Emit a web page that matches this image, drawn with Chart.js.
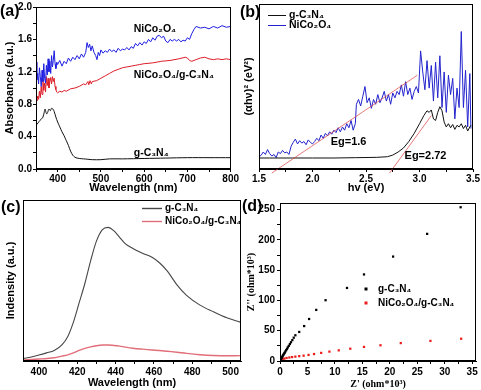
<!DOCTYPE html>
<html>
<head>
<meta charset="utf-8">
<script src="https://cdn.jsdelivr.net/npm/chart.js@4.4.1/dist/chart.umd.min.js"></script>
<style>
body { margin: 0; background: #fff; width: 481px; height: 390px; position: relative; overflow: hidden; }
canvas { position: absolute; }
.tag { position: absolute; font: bold 16px "Liberation Sans", Arial, sans-serif; color: #000; line-height: 1; }
</style>
</head>
<body>
<canvas id="uv-chart"  width="240" height="195" style="left:0;top:0"></canvas>
<canvas id="tauc-chart" width="241" height="195" style="left:240px;top:0"></canvas>
<canvas id="pl-chart"  width="244" height="195" style="left:0;top:195px"></canvas>
<canvas id="eis-chart" width="236" height="195" style="left:245px;top:195px"></canvas>
<div class="tag" style="left:0;top:3px">(a)</div>
<div class="tag" style="left:240px;top:4px">(b)</div>
<div class="tag" style="left:1px;top:199px">(c)</div>
<div class="tag" style="left:242px;top:198px">(d)</div>
<script>
// ---- (a) UV-vis absorbance ----
const UV_WAVE_NICO = [350,352,354,356,358,360,362,364,366,368,370,372,374,376,378,380,382,384,386,388,390,392,394,396,398,400,405,410,415,420,425,430,435,440,445,450,455,460,465,468,471,474,477,480,484,488,491,494,497,500,505,510,515,520,525,530,535,540,545,550,555,560,565,570,575,580,585,590,595,600,605,610,615,620,625,630,635,640,645,650,655,660,665,670,675,680,685,690,695,700,705,710,715,720,730,740,750,760,770,780,790,800];
const UV_ABS_NICO  = [1.32,1.10,1.18,1.05,1.25,1.14,1.02,1.22,1.08,1.30,1.12,1.06,1.28,1.16,1.36,1.20,1.33,1.18,1.40,1.26,1.34,1.46,1.30,1.24,1.32,1.29,1.34,1.27,1.33,1.30,1.37,1.33,1.38,1.35,1.40,1.36,1.42,1.38,1.44,1.56,1.50,1.54,1.46,1.52,1.44,1.40,1.35,1.44,1.40,1.47,1.43,1.46,1.44,1.48,1.45,1.47,1.44,1.49,1.46,1.48,1.47,1.50,1.47,1.51,1.49,1.55,1.52,1.56,1.53,1.57,1.55,1.60,1.57,1.62,1.59,1.64,1.65,1.62,1.64,1.58,1.56,1.60,1.58,1.60,1.58,1.60,1.57,1.59,1.58,1.62,1.60,1.67,1.72,1.76,1.74,1.75,1.73,1.76,1.74,1.77,1.75,1.76];
const UV_WAVE_COMP = [350,352,354,356,358,360,362,364,366,368,370,372,374,376,378,380,382,384,386,388,390,392,394,396,398,400,405,410,415,420,430,440,450,460,465,470,472,475,478,480,490,500,510,520,530,540,550,560,570,580,590,600,620,640,660,680,695,700,705,710,720,730,740,750,760,770,780,790,800];
const UV_ABS_COMP  = [0.86,0.84,0.90,0.86,0.96,0.88,1.02,0.92,1.10,0.97,1.06,0.95,1.14,1.03,1.12,1.00,1.08,1.13,1.05,1.14,1.08,1.12,1.02,0.98,0.95,0.94,0.96,0.95,0.97,0.96,0.99,1.00,1.02,1.05,1.04,1.08,1.04,1.09,1.05,1.08,1.09,1.12,1.15,1.18,1.21,1.23,1.25,1.26,1.27,1.28,1.29,1.30,1.31,1.33,1.34,1.36,1.38,1.37,1.34,1.33,1.35,1.37,1.38,1.36,1.35,1.36,1.35,1.36,1.35];
const UV_WAVE_CN = [350,355,359,363,366,369,371,373,375,377,380,383,386,389,392,396,400,405,410,415,420,425,430,435,440,445,450,460,470,480,500,520,550,600,650,700,750,800];
const UV_ABS_CN  = [0.54,0.57,0.60,0.62,0.64,0.70,0.74,0.70,0.68,0.70,0.74,0.72,0.75,0.74,0.71,0.64,0.58,0.52,0.46,0.41,0.35,0.29,0.22,0.17,0.145,0.135,0.13,0.125,0.12,0.115,0.115,0.125,0.125,0.13,0.135,0.14,0.14,0.14];
const UV_X_TICKS = [350,400,450,500,550,600,650,700,750,800];
const UV_X_LABELS = [400,500,600,700,800];
const UV_Y_TICKS = [0,0.2,0.4,0.6,0.8,1.0,1.2,1.4,1.6,1.8,2.0];
const UV_Y_LABELS = [0,0.4,0.8,1.2,1.6,2.0];

// ---- (b) Tauc plot ----
const TAUC_HV_NICO = [1.50,1.52,1.54,1.56,1.58,1.60,1.62,1.64,1.66,1.68,1.70,1.72,1.74,1.76,1.78,1.80,1.82,1.84,1.86,1.88,1.90,1.92,1.94,1.96,1.98,2.00,2.02,2.04,2.06,2.08,2.10,2.12,2.14,2.16,2.18,2.20,2.22,2.24,2.26,2.28,2.30,2.32,2.34,2.36,2.38,2.40,2.41,2.43,2.45,2.47,2.49,2.51,2.53,2.55,2.57,2.59,2.61,2.63,2.65,2.67,2.69,2.71,2.73,2.75,2.77,2.79,2.81,2.83,2.85,2.87,2.89,2.91,2.93,2.95,2.97,2.99,3.01,3.03,3.05,3.07,3.09,3.11,3.13,3.15,3.17,3.19,3.21,3.23,3.25,3.27,3.29,3.31,3.33,3.35,3.37,3.39,3.41,3.43,3.45,3.47,3.48];
const TAUC_Y_NICO  = [7.5,8.5,10.5,9,12,9.5,8,9,7,10.5,9.5,11.5,10,10.5,9,14,16.5,18.5,15.5,17.5,16,17,15,18,16.5,15.5,17,19,17.5,21,19,22,20.5,23,21.5,24,22.5,25.5,23,26,24,28,25.5,30,24,28,40,43,39,45,51,41,44,37.5,43,40,46,41,44,48,42,46,40,47,44,48,46,52,45,54,46,50,43,48,51,47,73,60,49,67,50,64,42,66,44,70,38,60,35,58,46,56,31,50,38,85,38,61,26,59,25];
const TAUC_HV_CN = [1.50,1.60,1.80,2.00,2.20,2.40,2.60,2.70,2.75,2.80,2.85,2.90,2.95,3.00,3.04,3.07,3.09,3.11,3.13,3.15,3.17,3.19,3.21,3.23,3.25,3.27,3.29,3.31,3.33,3.35,3.37,3.39,3.41,3.43,3.45,3.47,3.48];
const TAUC_Y_CN  = [6.8,6.8,6.8,6.8,6.8,7.0,7.2,7.6,8.6,10.5,13,17,22,28,33,36,35,36.5,31,30,35,38.5,36,29,26,28,25.5,27.5,24.5,27,26,28,25,27,23.5,26,27];
const TAUC_FIT_NICO_HV = [1.62,2.98];
const TAUC_FIT_NICO_Y  = [-2.5,58];
const TAUC_FIT_CN_HV = [2.72,3.11];
const TAUC_FIT_CN_Y  = [-2.5,33];
const TAUC_X_TICKS = [1.5,1.75,2.0,2.25,2.5,2.75,3.0,3.25,3.5];
const TAUC_X_LABELS = [1.5,2.0,2.5,3.0,3.5];

// ---- (c) photoluminescence ----
const PL_WAVE = [392,396,400,404,408,412,415,418,421,424,427,430,433,436,439,442,445,449,454,459,463,467,472,477,484,491,498,505];
const PL_CN   = [1.5,2.5,3.7,5,6.5,10,15,24,36,48,62,74,81,82.5,80.5,76.5,72.5,69.5,66.5,64,60.5,55.5,47,40.5,34.5,30.4,26.7,24];
const PL_COMP = [0.6,0.9,1.2,1.5,2,3,3.8,5,6.6,7.8,8.7,9.4,9.9,9.9,9.6,9.2,8.6,7.9,7.3,6.8,6.5,6,5.4,4.7,3.9,3.4,3.2,3.3];
const PL_X_TICKS = [400,410,420,430,440,450,460,470,480,490,500];
const PL_X_LABELS = [400,420,440,460,480,500];

// ---- (d) Nyquist plot ----
const EIS_RE_CN = [0.04,0.1,0.18,0.28,0.38,0.47,0.56,0.66,0.77,0.88,1.0,1.13,1.27,1.42,1.6,1.8,2.0,2.25,2.5,2.8,3.5,4.4,5.3,6.6,8.3,12.2,15.3,20.6,26.8,32.9];
const EIS_IM_CN = [0.5,1.5,3,5,6.5,8,9.5,11,12.5,14,16,18,20,22.5,25,28,31,34.5,38.5,42.5,48,57.7,69.4,84.4,100.4,120.7,143,172.5,210,254];
const EIS_RE_COMP = [0.05,0.15,0.3,0.5,0.8,1.2,1.7,2.2,2.8,3.5,4.3,5.2,6.2,7.5,9.0,10.7,12.8,15.3,18.3,22.0,27.4,33.0];
const EIS_IM_COMP = [0.3,1,2,3,4,5,5.8,6.5,7.2,8,8.8,10,11.5,13.4,15.5,17.6,20.3,23.3,26,29.6,33.2,36.8];
const EIS_X_TICKS = [0,2.5,5,7.5,10,12.5,15,17.5,20,22.5,25,27.5,30,32.5,35];
const EIS_X_LABELS = [0,5,10,15,20,25,30,35];
const EIS_Y_TICKS = [0,25,50,75,100,125,150,175,200,225,250];
const EIS_Y_LABELS = [0,50,100,150,200,250];

const SANS  = '"Liberation Sans", Arial, sans-serif';
const SERIF = '"Liberation Serif", "Times New Roman", serif';

function points(xs, ys) {
    return xs.map((x, i) => ({ x: x, y: ys[i] }));
}

function isLabel(list, v) {
    return list.some(l => Math.abs(l - v) < 1e-9);
}

// 軸の共通設定 (width/height fixed so the plot box lands where the figure has it)
function axis(o) {
    const conf = {
        type: 'linear',
        min: o.min,
        max: o.max,
        afterFit: s => { if (o.horizontal) s.height = o.size; else s.width = o.size; },
        grid: { drawOnChartArea: false, drawTicks: !!o.ticks, tickLength: 3, color: '#000', tickColor: '#000' },
        border: { display: true, color: '#000', width: 1 },
        ticks: {
            display: !!o.labels,
            autoSkip: false,
            maxRotation: 0,
            padding: o.tickPad !== undefined ? o.tickPad : 1,
            color: '#000',
            font: { family: SANS, weight: 'bold', size: 10 },
            callback: v => (o.labels && isLabel(o.labels, v)) ? o.fmt(v) : ''
        },
        title: {
            display: true,
            text: o.title,
            color: '#000',
            font: o.titleFont || { family: SANS, weight: 'bold', size: 11 },
            padding: o.titlePad || { top: 0, bottom: 0 }
        }
    };
    if (o.ticks) conf.afterBuildTicks = s => { s.ticks = o.ticks.map(v => ({ value: v })); };
    return conf;
}

// 枠線
const framePlugin = {
    id: 'frame',
    afterDraw(chart) {
        const { ctx, chartArea: a } = chart;
        ctx.save();
        ctx.strokeStyle = '#000';
        ctx.lineWidth = 1;
        ctx.strokeRect(Math.round(a.left) + 0.5, Math.round(a.top) + 0.5,
                       Math.round(a.right - a.left) - 1, Math.round(a.bottom - a.top) - 1);
        ctx.restore();
    }
};

// テキスト注記 (data coordinates)
function notesPlugin(id, items, size) {
    return {
        id: id,
        afterDatasetsDraw(chart) {
            const { ctx, scales } = chart;
            items.forEach(n => {
                ctx.save();
                ctx.font = 'bold ' + size + 'px ' + SANS;
                ctx.fillStyle = '#000';
                ctx.textBaseline = 'middle';
                ctx.fillText(n.text, scales.x.getPixelForValue(n.x), scales.y.getPixelForValue(n.y));
                ctx.restore();
            });
        }
    };
}

// 凡例 (drawn inside the plot box)
function legendPlugin(id, pos) {
    return {
        id: id,
        afterDraw(chart) {
            const ctx = chart.ctx;
            let y = pos.y;
            chart.data.datasets.forEach(ds => {
                if (!ds.label) return;
                ctx.save();
                if (pos.marker === 'dot') {
                    ctx.fillStyle = ds.backgroundColor;
                    ctx.fillRect(pos.x - 1.5, y - 1.5, 3, 3);
                } else {
                    ctx.strokeStyle = ds.borderColor;
                    ctx.lineWidth = pos.lw || 1;
                    ctx.beginPath();
                    ctx.moveTo(pos.x, y + 0.5);
                    ctx.lineTo(pos.x + pos.len, y + 0.5);
                    ctx.stroke();
                }
                ctx.font = 'bold ' + (pos.size || 11) + 'px ' + SANS;
                ctx.fillStyle = '#000';
                ctx.textBaseline = 'middle';
                ctx.fillText(ds.label, pos.tx, y);
                ctx.restore();
                y += pos.step;
            });
        }
    };
}

const baseOptions = (pad, scales) => ({
    responsive: false,
    animation: false,
    layout: { padding: pad },
    plugins: { legend: { display: false }, tooltip: { enabled: false } },
    scales: scales
});

/**
 * (a) 吸収スペクトル ======================================================
 */
new Chart(document.getElementById('uv-chart'), {
    type: 'scatter',
    data: {
        datasets: [
            { label: 'NiCo₂O₄', data: points(UV_WAVE_NICO, UV_ABS_NICO), borderColor: 'rgb(30,30,225)', showLine: true, pointRadius: 0, borderWidth: 1 },
            { label: 'NiCo₂O₄/g-C₃N₄', data: points(UV_WAVE_COMP, UV_ABS_COMP), borderColor: 'rgb(220,30,40)', showLine: true, pointRadius: 0, borderWidth: 1 },
            { label: 'g-C₃N₄', data: points(UV_WAVE_CN, UV_ABS_CN), borderColor: '#111', showLine: true, pointRadius: 0, borderWidth: 1, tension: 0.3 }
        ]
    },
    options: baseOptions({ top: 7, right: 3, left: 0, bottom: 0 }, {
        x: axis({ horizontal: true, size: 26, min: 350, max: 800, ticks: UV_X_TICKS, labels: UV_X_LABELS, fmt: v => String(v), title: 'Wavelength (nm)' }),
        y: axis({ size: 36, min: 0, max: 2.0, ticks: UV_Y_TICKS, labels: UV_Y_LABELS, fmt: v => v.toFixed(1), title: 'Absorbance (a.u.)', titlePad: { top: 3, bottom: 0 } })
    }),
    plugins: [framePlugin, notesPlugin('uvNotes', [
        { text: 'NiCo₂O₄', x: 576, y: 1.73 },
        { text: 'NiCo₂O₄/g-C₃N₄', x: 576, y: 1.16 },
        { text: 'g-C₃N₄', x: 576, y: 0.2 }
    ], 10.5)]
});

/**
 * (b) Taucプロット ======================================================
 */
new Chart(document.getElementById('tauc-chart'), {
    type: 'scatter',
    data: {
        datasets: [
            { label: 'g-C₃N₄', data: points(TAUC_HV_CN, TAUC_Y_CN), borderColor: '#111', showLine: true, pointRadius: 0, borderWidth: 1, order: 1 },
            { label: 'NiCo₂O₄', data: points(TAUC_HV_NICO, TAUC_Y_NICO), borderColor: 'rgb(35,35,205)', showLine: true, pointRadius: 0, borderWidth: 1, order: 2 },
            { label: '', data: points(TAUC_FIT_NICO_HV, TAUC_FIT_NICO_Y), borderColor: 'rgba(220,70,70,0.9)', showLine: true, pointRadius: 0, borderWidth: 0.8, clip: false, order: 0 },
            { label: '', data: points(TAUC_FIT_CN_HV, TAUC_FIT_CN_Y), borderColor: 'rgba(220,70,70,0.9)', showLine: true, pointRadius: 0, borderWidth: 0.8, clip: false, order: 0 }
        ]
    },
    options: baseOptions({ top: 4, right: 5, left: 0, bottom: 0 }, {
        x: axis({ horizontal: true, size: 26, min: 1.5, max: 3.5, ticks: TAUC_X_TICKS, labels: TAUC_X_LABELS, fmt: v => v.toFixed(1), title: 'hv (eV)' }),
        y: axis({ size: 19, min: 0, max: 102, title: '(αhν)² (eV²)', titlePad: { top: 2, bottom: 0 } })
    }),
    plugins: [framePlugin,
        legendPlugin('taucLegend', { x: 28, len: 18, tx: 49, y: 15, step: 10, size: 10.5 }),
        notesPlugin('taucNotes', [
            { text: 'Eg=1.6', x: 2.17, y: 17 },
            { text: 'Eg=2.72', x: 2.86, y: 8 }
        ], 11)]
});

/**
 * (c) PLスペクトル ======================================================
 */
new Chart(document.getElementById('pl-chart'), {
    type: 'scatter',
    data: {
        datasets: [
            { label: 'g-C₃N₄', data: points(PL_WAVE, PL_CN), borderColor: 'rgb(70,70,70)', showLine: true, pointRadius: 0, borderWidth: 1.1, tension: 0.4, cubicInterpolationMode: 'monotone' },
            { label: 'NiCo₂O₄/g-C₃N₄', data: points(PL_WAVE, PL_COMP), borderColor: 'rgb(225,110,120)', showLine: true, pointRadius: 0, borderWidth: 1.4, tension: 0.4, cubicInterpolationMode: 'monotone' }
        ]
    },
    options: baseOptions({ top: 5, right: 3, left: 0, bottom: 0 }, {
        x: axis({ horizontal: true, size: 29, min: 391.7, max: 505.4, ticks: PL_X_TICKS, labels: PL_X_LABELS, fmt: v => String(v), title: 'Wavelength (nm)', tickPad: 2 }),
        y: axis({ size: 23, min: 0, max: 99.4, title: 'Indensity (a.u.)', titlePad: { top: 4, bottom: 0 } })
    }),
    plugins: [framePlugin, legendPlugin('plLegend', { x: 142, len: 20, tx: 165, y: 13, step: 13, lw: 1.4, size: 10 })]
});

/**
 * (d) Nyquistプロット ======================================================
 */
new Chart(document.getElementById('eis-chart'), {
    type: 'scatter',
    data: {
        datasets: [
            { label: 'g-C₃N₄', data: points(EIS_RE_CN, EIS_IM_CN), backgroundColor: '#000', borderWidth: 0, pointStyle: 'rect', pointRadius: 1.6 },
            { label: 'NiCo₂O₄/g-C₃N₄', data: points(EIS_RE_COMP, EIS_IM_COMP), backgroundColor: 'rgb(235,30,30)', borderWidth: 0, pointStyle: 'rect', pointRadius: 1.6 }
        ]
    },
    options: baseOptions({ top: 3, right: 5, left: 0, bottom: 0 }, {
        x: axis({ horizontal: true, size: 29, min: 0, max: 35.7, ticks: EIS_X_TICKS, labels: EIS_X_LABELS, fmt: v => String(v), title: "Z' (ohm*10³)", tickPad: 2,
                  titleFont: { family: SERIF, weight: 'bold', size: 10 } }),
        y: axis({ size: 35, min: 0, max: 261, ticks: EIS_Y_TICKS, labels: EIS_Y_LABELS, fmt: v => String(v), title: "Z'' (ohm*10³)", tickPad: 2,
                  titleFont: { family: SERIF, weight: 'bold', size: 10 }, titlePad: { top: 0, bottom: 0 } })
    }),
    plugins: [framePlugin, legendPlugin('eisLegend', { marker: 'dot', x: 121, tx: 133, y: 94, step: 14, size: 10 })]
});
</script>
</body>
</html>
